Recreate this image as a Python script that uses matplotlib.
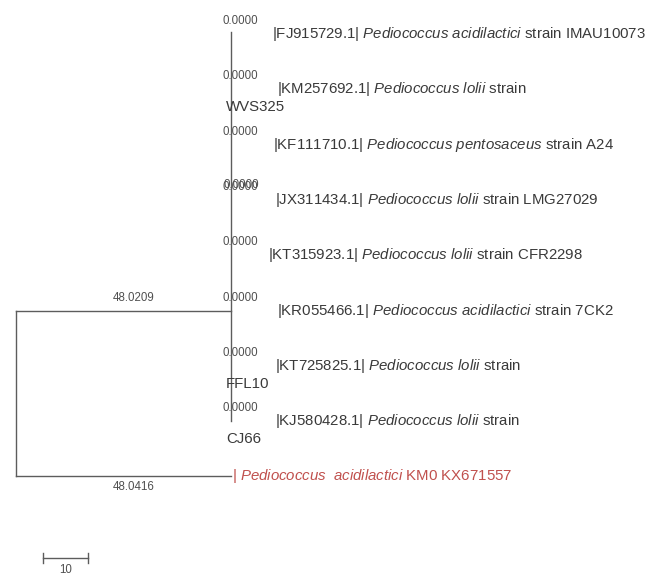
import numpy as np
import matplotlib
matplotlib.use('Agg')
import matplotlib.pyplot as plt
from matplotlib.transforms import offset_copy

plt.rcParams['font.family'] = 'Liberation Sans'
plt.rcParams['mathtext.fontset'] = 'custom'
plt.rcParams['mathtext.rm'] = 'Liberation Sans'
plt.rcParams['mathtext.it'] = 'Liberation Sans:italic'

# Ingroup leaves, top to bottom
accessions = ['FJ915729.1', 'KM257692.1', 'KF111710.1', 'JX311434.1',
              'KT315923.1', 'KR055466.1', 'KT725825.1', 'KJ580428.1']
species = ['Pediococcus acidilactici', 'Pediococcus lolii', 'Pediococcus pentosaceus',
           'Pediococcus lolii', 'Pediococcus lolii', 'Pediococcus acidilactici',
           'Pediococcus lolii', 'Pediococcus lolii']
strains = ['IMAU10073', '', 'A24', 'LMG27029', 'CFR2298', '7CK2', '', '']
wrapped = ['', 'WVS325', '', '', '', '', 'FFL10', 'CJ66']
leaf_lengths = [0.0, 0.0, 0.0, 0.0, 0.0, 0.0, 0.0, 0.0]

# Outgroup and internal branches
outgroup_species = 'Pediococcus  acidilactici'
outgroup_name = 'KM0 KX671557'
ingroup_branch = 48.0209
outgroup_branch = 48.0416
scale_len = 10

fig = plt.figure(figsize=(6.53, 5.74), dpi=100)
ax = fig.add_axes([0, 0, 1, 1])
ax.set_xlim(-3.574, 142.28)
ax.set_ylim(9.765, -0.615)
ax.axis('off')

line_c = '#5c5c5c'
text_c = '#3a3a3a'
num_c = '#505050'
lw = 1.0
fs_label = 10.8
fs_num = 8.3
# small per-leaf nudges of the label start, in pixels
label_dx = [41, 46, 42, 44, 37, 46, 44, 44]

def shifted(dx, dy):
    return offset_copy(ax.transData, fig=fig, x=dx, y=dy, units='dots')

n = len(accessions)
leaf_y = np.arange(n)
out_y = n
join_y = leaf_y[5]
node_x = ingroup_branch

# root and the two main branches
ax.plot([0, 0], [join_y, out_y], color=line_c, lw=lw)
ax.plot([0, node_x], [join_y, join_y], color=line_c, lw=lw)
ax.plot([0, outgroup_branch], [out_y, out_y], color=line_c, lw=lw)
ax.plot([node_x, node_x], [leaf_y[0] - 0.03, leaf_y[-1]], color=line_c, lw=lw)

ax.text(ingroup_branch / 2, join_y, f'{ingroup_branch:.4f}', fontsize=fs_num, color=num_c,
        ha='center', va='center', transform=shifted(10, 13))
ax.text(outgroup_branch / 2, out_y, f'{outgroup_branch:.4f}', fontsize=fs_num, color=num_c,
        ha='center', va='center', transform=shifted(10, -11))

for i in range(n):
    x_leaf = node_x + leaf_lengths[i]
    ax.plot([node_x, x_leaf], [leaf_y[i], leaf_y[i]], color=line_c, lw=lw)
    ax.text(node_x + leaf_lengths[i] / 2, leaf_y[i], f'{leaf_lengths[i]:.4f}', fontsize=fs_num,
            color=num_c, ha='center', va='center', transform=shifted(9, 13))
    if i == 3:
        # two overlapping zero-length labels
        ax.text(node_x, leaf_y[i], f'{leaf_lengths[i]:.4f}', fontsize=fs_num,
                color=num_c, ha='center', va='center', transform=shifted(10, 15))
    sp = species[i].replace(' ', r'\ ')
    label = f'|{accessions[i]}| ' + r'$\it{' + sp + '}$' + ' strain'
    if strains[i]:
        label += ' ' + strains[i]
    ax.text(x_leaf, leaf_y[i], label, fontsize=fs_label, color=text_c,
            ha='left', va='center', transform=shifted(label_dx[i], 0))
    if wrapped[i]:
        ax.text(x_leaf, leaf_y[i], wrapped[i], fontsize=fs_label, color=text_c,
                ha='left', va='center', transform=shifted(-5, -18))

sp = outgroup_species.replace(' ', r'\ ')
ax.text(outgroup_branch, out_y, '| ' + r'$\it{' + sp + '}$' + ' ' + outgroup_name,
        fontsize=fs_label, color='#c0504d', ha='left', va='center', transform=shifted(1, 0))

# scale bar
sb_x0, sb_y = 6.0, 9.476
ax.plot([sb_x0, sb_x0 + scale_len], [sb_y, sb_y], color=line_c, lw=lw)
ax.plot([sb_x0, sb_x0], [sb_y - 0.09, sb_y + 0.09], color=line_c, lw=lw)
ax.plot([sb_x0 + scale_len] * 2, [sb_y - 0.09, sb_y + 0.09], color=line_c, lw=lw)
ax.text(sb_x0 + scale_len / 2, sb_y, str(scale_len), fontsize=fs_num, color=num_c,
        ha='center', va='center', transform=shifted(0, -12))

fig.savefig('out.png', dpi=100)
